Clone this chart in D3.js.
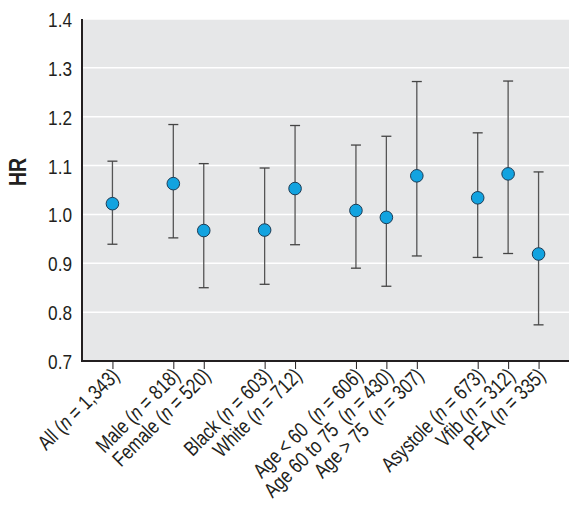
<!DOCTYPE html>
<html>
<head>
<meta charset="utf-8">
<script src="https://cdn.jsdelivr.net/npm/d3@7"></script>
<style>
  html, body { margin: 0; padding: 0; background: #fff; }
  svg text { font-family: "Liberation Sans", Arial, "DejaVu Sans Condensed", sans-serif; fill: #231f20; }
</style>
</head>
<body>
<svg id="chart" width="579" height="524"></svg>
<script>
// ---- data ----
const groups = ["All", "Male", "Female", "Black", "White", "Age < 60\u00A0", "Age 60 to 75\u00A0", "Age > 75\u00A0", "Asystole", "Vfib", "PEA"];
const sizes = ["1,343", "818", "520", "603", "712", "606", "430", "307", "673", "312", "335"];
const slots = [0, 2, 3, 5, 6, 8, 9, 10, 12, 13, 14];
const hr = [1.022, 1.063, 0.967, 0.968, 1.053, 1.008, 0.994, 1.079, 1.034, 1.083, 0.919];
const lower = [0.939, 0.952, 0.850, 0.857, 0.938, 0.890, 0.853, 0.915, 0.912, 0.920, 0.774];
const upper = [1.109, 1.184, 1.104, 1.095, 1.182, 1.142, 1.160, 1.272, 1.167, 1.273, 1.087];
const yTicks = [0.7, 0.8, 0.9, 1.0, 1.1, 1.2, 1.3, 1.4];

const svg = d3.select("#chart");
const pLeft = 82, pRight = 569, pTop = 19, pBottom = 361;
const squeeze = 0.8;

const x = d3.scaleLinear().domain([-1, 15]).range([pLeft, pRight]);
const y = d3.scaleLinear().domain([0.7, 1.4]).range([pBottom, pTop]);

// background
svg.append("rect").attr("x", pLeft).attr("y", pTop)
  .attr("width", pRight - pLeft).attr("height", pBottom - pTop).attr("fill", "#e6e7e8");

// gridlines
svg.append("g").selectAll("line").data(yTicks.slice(1)).join("line")
  .attr("x1", pLeft).attr("x2", pRight)
  .attr("y1", d => y(d)).attr("y2", d => y(d))
  .attr("stroke", "#ffffff").attr("stroke-width", 1.5);

// y axis labels
const yAxis = d3.axisLeft(y).tickValues(yTicks).tickFormat(d3.format(".1f")).tickSize(0).tickPadding(0);
const gy = svg.append("g").attr("transform", `translate(${pLeft},0)`).call(yAxis);
gy.select(".domain").remove();
gy.attr("font-family", null).attr("font-size", null);
gy.selectAll("text").attr("font-size", 21).attr("x", 0).attr("dy", "0.36em")
  .attr("transform", `translate(-10,0) scale(0.82,1)`).style("fill", "#231f20");

// x axis ticks
const xAxis = d3.axisBottom(x).tickValues(slots).tickFormat("").tickSize(8);
const gx = svg.append("g").attr("transform", `translate(0,${pBottom})`).call(xAxis);
gx.select(".domain").remove();
gx.selectAll(".tick line").attr("stroke", "#231f20").attr("stroke-width", 1);

// axis lines
svg.append("line").attr("x1", pLeft).attr("x2", pLeft).attr("y1", pTop).attr("y2", pBottom + 1)
  .attr("stroke", "#231f20").attr("stroke-width", 2);
svg.append("line").attr("x1", pLeft - 1).attr("x2", pRight).attr("y1", pBottom).attr("y2", pBottom)
  .attr("stroke", "#231f20").attr("stroke-width", 2);

// x labels
const lbl = svg.append("g").selectAll("text").data(groups).join("text")
  .attr("text-anchor", "end")
  .attr("font-size", 21)
  .attr("transform", (d, i) => `translate(${x(slots[i]) + 8},${pBottom + 16}) rotate(-45) scale(${squeeze},1)`);
lbl.append("tspan").text((d) => d + " (");
lbl.append("tspan").attr("font-style", "italic").text("n");
lbl.append("tspan").text((d, i) => " = " + sizes[i] + ")");

// error bars
const eb = svg.append("g").selectAll("g").data(groups).join("g");
eb.append("line")
  .attr("x1", (d, i) => x(slots[i])).attr("x2", (d, i) => x(slots[i]))
  .attr("y1", (d, i) => y(lower[i])).attr("y2", (d, i) => y(upper[i]))
  .attr("stroke", "#555555").attr("stroke-width", 1.3);
eb.append("line")
  .attr("x1", (d, i) => x(slots[i]) - 5).attr("x2", (d, i) => x(slots[i]) + 5)
  .attr("y1", (d, i) => y(upper[i])).attr("y2", (d, i) => y(upper[i]))
  .attr("stroke", "#444444").attr("stroke-width", 1.3);
eb.append("line")
  .attr("x1", (d, i) => x(slots[i]) - 5).attr("x2", (d, i) => x(slots[i]) + 5)
  .attr("y1", (d, i) => y(lower[i])).attr("y2", (d, i) => y(lower[i]))
  .attr("stroke", "#444444").attr("stroke-width", 1.3);

// points
svg.append("g").selectAll("circle").data(groups).join("circle")
  .attr("cx", (d, i) => x(slots[i])).attr("cy", (d, i) => y(hr[i]))
  .attr("r", 6.3)
  .attr("fill", "#12a3e0").attr("stroke", "#1d3c55").attr("stroke-width", 1);

// y title
svg.append("text").attr("transform", `translate(26,172) rotate(-90) scale(0.85,1)`)
  .attr("text-anchor", "middle").attr("font-size", 23).attr("font-weight", "bold").text("HR");
</script>
</body>
</html>
